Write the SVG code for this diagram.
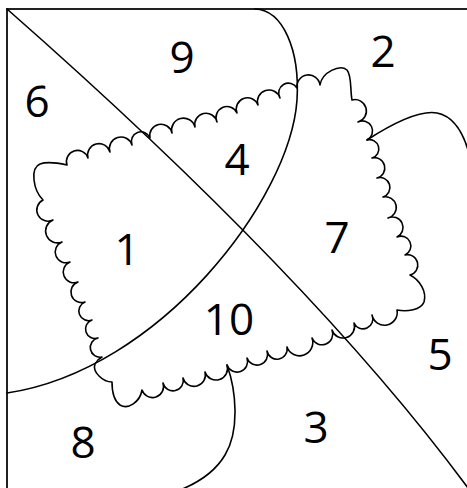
<svg xmlns="http://www.w3.org/2000/svg" width="467" height="488" viewBox="0 0 467 488">
<style>
.ln{fill:none;stroke:#000;stroke-width:1.6;stroke-linejoin:round;stroke-linecap:round}
.bd{fill:none;stroke:#222;stroke-width:2}
.lb{font-family:"Open Sans","Liberation Sans",sans-serif;font-size:44px;fill:#000;text-anchor:middle}
</style>
<rect width="467" height="488" fill="#fff"/>
<g id="frame"><polyline class="bd" points="7,490 7,9 469,9"/></g>
<g id="connectors">
<path id="diagonal" class="ln" d="M7,9 Q312,277 468,488"/>
<path id="arc" class="ln" d="M255,9 C283,10 300,50 297,100 C290,200 160,370 7,393"/>
<path id="right-curve" class="ln" d="M367,140 C395,122 420,110 437,113 C452,116 462,130 468,150"/>
<path id="bottom-curve" class="ln" d="M227,365 C236,390 240,430 225,455 C215,472 200,482 180,490"/>
</g>
<g id="scallop">
<path class="ln" d="M67,165 A1 1 0 0 1 88,158 A1 1 0 0 1 110,152 A1 1 0 0 1 132,145 A1 1 0 0 1 150,138 A1 1 0 0 1 172,133 A1 1 0 0 1 195,127 A1 1 0 0 1 217,122 A1 1 0 0 1 237,113 A1 1 0 0 1 258,105 A1 1 0 0 1 280,98 A1 1 0 0 1 297,88 A1 1 0 0 1 320,85 C322,72 340,64 347,70 C352,76 350,90 352,100 A1 1 0 0 1 358,122 A1 1 0 0 1 367,140 A1 1 0 0 1 372,158 A1 1 0 0 1 377,178 A1 1 0 0 1 383,197 A1 1 0 0 1 388,218 A1 1 0 0 1 397,237 A1 1 0 0 1 405,255 A1 1 0 0 1 410,275 C420,280 427,292 424,302 C421,310 407,312 397,310 A1 1 0 0 1 372,315 A1 1 0 0 1 354,323 A1 1 0 0 1 332,330 A1 1 0 0 1 312,338 A1 1 0 0 1 287,347 A1 1 0 0 1 267,351 A1 1 0 0 1 247,358 A1 1 0 0 1 227,365 A1 1 0 0 1 205,372 A1 1 0 0 1 183,378 A1 1 0 0 1 163,383 A1 1 0 0 1 142,390 C140,402 128,410 120,405 C113,400 112,390 112,382 C103,382 92,372 95,364 C97,360 100,358 102,357 A1 1 0 0 1 98,338 A1 1 0 0 1 92,320 A1 1 0 0 1 85,302 A1 1 0 0 1 78,282 A1 1 0 0 1 70,262 A1 1 0 0 1 62,242 A1 1 0 0 1 53,220 A1 1 0 0 1 43,200 C33,190 30,168 40,164 C48,161 58,163 67,165 Z"/>
</g>
<g id="labels">
<text id="r1" class="lb" x="127" y="265">1</text>
<text id="r2" class="lb" x="383" y="67">2</text>
<text id="r3" class="lb" x="316" y="443">3</text>
<text id="r4" class="lb" x="237" y="175">4</text>
<text id="r5" class="lb" x="440" y="370">5</text>
<text id="r6" class="lb" x="37" y="117">6</text>
<text id="r7" class="lb" x="337" y="253">7</text>
<text id="r8" class="lb" x="83" y="458">8</text>
<text id="r9" class="lb" x="182" y="73">9</text>
<text id="r10" class="lb" x="229" y="335">10</text>
</g>
</svg>
